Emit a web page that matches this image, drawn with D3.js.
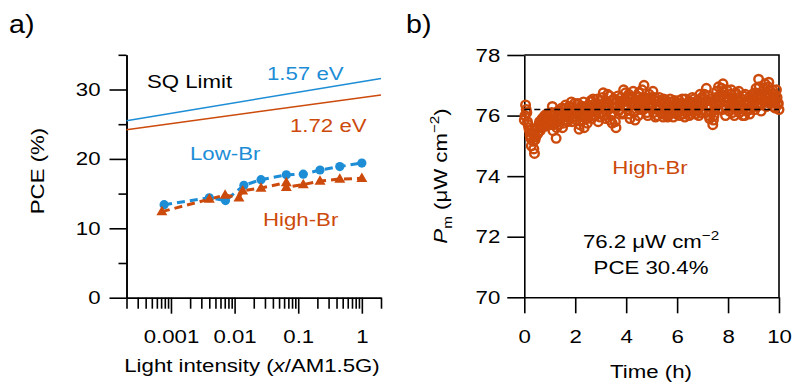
<!DOCTYPE html>
<html><head><meta charset="utf-8">
<script src="https://cdn.jsdelivr.net/npm/d3@7"></script>
<style>
body{margin:0;background:#fff;}
svg{display:block;}
text{font-family:"Liberation Sans",Arial,sans-serif;}
</style>
</head><body>
<svg id="c" width="792" height="385"></svg>
<script>
// ---------- data: panel a ----------
const intensityLow  = [0.00078, 0.004, 0.0072, 0.014, 0.026, 0.065, 0.12, 0.22, 0.45, 1.0];
const pceLow        = [13.4, 14.4, 14.0, 16.2, 17.0, 17.7, 17.8, 18.4, 18.9, 19.4];
const intensityHigh = [0.00072, 0.004, 0.0071, 0.0117, 0.0134, 0.026, 0.065, 0.065, 0.12, 0.22, 0.45, 1.0];
const pceHigh       = [12.4, 14.2, 14.8, 14.4, 15.4, 15.8, 16.6, 15.9, 16.3, 16.8, 17.1, 17.2];
const sqIntensity   = [0.0002, 2];
const sq157         = [25.5, 31.6];
const sq172         = [24.2, 29.2];
const xTicksA       = [0.001, 0.01, 0.1, 1];
const xTickLabelsA  = ["0.001", "0.01", "0.1", "1"];
const yTicksA       = [0, 10, 20, 30];
const yMinorTicksA  = [5, 15, 25, 35];

// ---------- data: panel b (two interleaved sampling sets) ----------
const timeStep = 0.05; // hours
const timeStartA = 0, timeStartB = 0.025;
const pmA = [
 75.85,76.35,76.1,75.7,75.5,75.25,75.55,75.15,74.75,75.3,75.6,75.45,75.8,75.6,75.9,75.75,76.0,75.65,75.95,75.8,
 76.05,75.9,76.3,75.7,75.85,75.25,76.0,75.7,76.15,75.9,75.6,76.2,75.95,76.1,75.8,76.3,76.0,76.45,75.95,76.2,
 76.1,75.85,76.4,75.55,76.15,76.0,76.3,75.6,76.1,75.9,76.25,76.05,76.45,75.9,76.55,76.2,76.0,76.35,75.8,76.3,
 76.5,76.1,76.75,76.3,75.9,76.45,76.2,76.65,76.0,75.75,76.4,76.25,75.6,76.5,76.15,76.35,76.6,76.05,76.85,76.3,
 76.5,76.2,76.7,75.9,76.4,76.6,76.1,75.85,76.5,76.3,76.75,76.2,76.45,76.6,77.0,76.3,76.55,76.0,76.7,76.4,
 76.25,76.8,76.5,75.95,76.35,76.2,76.6,76.1,76.4,75.95,76.3,76.5,76.15,76.0,76.45,76.2,76.35,75.95,76.5,76.25,
 76.1,76.4,76.0,76.3,76.55,76.2,75.95,76.35,76.15,76.45,76.3,76.05,76.6,76.25,76.4,76.15,76.5,76.0,76.7,76.35,
 76.2,76.55,76.45,76.9,76.3,76.0,76.55,76.1,75.7,76.0,76.4,76.8,76.2,76.6,76.5,76.9,77.05,76.6,76.0,76.85,
 76.45,76.15,76.7,76.3,76.55,76.0,76.75,76.35,76.6,76.1,76.45,76.25,76.65,76.0,76.4,76.2,76.5,76.05,76.3,76.7,
 76.6,76.2,76.9,76.4,77.2,76.6,76.15,76.8,76.5,77.05,76.3,76.75,77.1,76.6,76.4,76.85,76.55,76.25,76.85,76.35,76.2
];
const pmB = [
 76.0,76.2,75.8,75.6,75.35,75.0,75.4,74.9,75.2,75.55,75.4,75.7,75.5,75.85,75.65,75.95,75.7,76.05,75.75,75.9,
 75.7,76.1,75.5,76.0,75.8,75.6,76.15,75.85,76.0,76.25,75.75,76.05,76.35,75.85,76.15,75.95,76.3,75.8,76.1,76.4,
 75.95,76.2,76.05,75.7,76.3,75.85,76.45,76.0,76.2,75.75,76.35,76.1,76.5,76.0,76.25,76.4,76.1,76.55,76.2,75.95,
 76.35,76.6,76.0,76.45,76.15,76.7,76.3,75.85,76.5,76.1,76.55,75.8,76.3,76.65,76.2,76.45,76.1,76.5,76.35,76.75,
 76.3,76.55,76.05,76.6,76.35,76.8,76.15,76.4,76.65,76.0,76.5,76.3,76.85,76.2,76.6,76.45,76.1,76.55,76.3,76.6,
 76.4,76.1,76.6,76.3,76.0,76.5,76.2,76.45,76.05,76.55,76.2,76.4,75.95,76.3,76.55,76.1,76.45,76.2,76.35,76.05,
 76.3,76.5,76.15,76.4,76.05,76.35,76.55,76.1,76.3,76.0,76.45,76.2,76.35,76.55,76.05,76.3,76.2,76.45,76.1,76.6,
 76.4,76.7,76.1,76.5,76.65,75.9,76.3,76.45,75.85,76.2,76.6,76.35,76.95,76.4,76.7,76.2,76.8,76.45,76.3,76.6,
 76.6,76.3,76.85,76.1,76.4,76.7,76.2,76.5,76.8,76.25,76.55,76.0,76.45,76.7,76.15,76.4,76.6,76.2,76.5,76.45,
 76.4,76.75,76.3,76.65,76.95,76.35,76.7,76.5,76.9,76.45,76.6,76.95,76.4,76.8,76.5,76.3,76.7,76.5,76.6,76.4
];
const pmAverage = 76.2;
const xTicksB = [0, 2, 4, 6, 8, 10];
const yTicksB = [70, 72, 74, 76, 78];

// ---------- style ----------
const BLUE = "#1d8dd6", ORANGE = "#cc4a0b";
const FS = 19, SX = 1.17, AXW = 1.6;

const svg = d3.select("#c");

function stretch(sel, sx) {
  sel.each(function () {
    const t = d3.select(this);
    const x = +t.attr("x") || 0, y = +t.attr("y") || 0;
    const prev = t.attr("transform") || "";
    t.attr("x", null).attr("y", null)
     .attr("transform", `translate(${x},${y}) ${prev} scale(${sx},1)`);
  });
}
function styleAxis(g) {
  g.selectAll("path,line").attr("stroke", "#000").attr("stroke-width", AXW);
  g.selectAll("text").attr("font-size", FS).attr("font-family", '"Liberation Sans",Arial,sans-serif').attr("fill", "#000");
  stretch(g.selectAll("text"), SX);
}

// ================= panel a =================
const xA = d3.scaleLog().domain([2e-4, 2]).range([126.5, 381]);
const yA = d3.scaleLinear().domain([0, 35]).range([297.7, 54.8]);
const gA = svg.append("g");

// minor x ticks (2..9 of every decade inside the domain)
const minorXA = [];
for (let e = -4; e <= 0; e++) for (let m = 2; m <= 9; m++) {
  const v = m * Math.pow(10, e);
  if (v >= 2e-4 && v <= 2) minorXA.push(v);
}
const axMinX = gA.append("g").attr("transform", `translate(0,${yA(0)})`)
  .call(d3.axisBottom(xA).tickValues(minorXA).tickSize(11).tickSizeOuter(0).tickFormat(""));
styleAxis(axMinX);
const axX = gA.append("g").attr("transform", `translate(0,${yA(0)})`)
  .call(d3.axisBottom(xA).tickValues(xTicksA).tickSize(16).tickSizeOuter(0).tickPadding(16)
    .tickFormat((d, i) => xTickLabelsA[i]));
styleAxis(axX);

const axMinY = gA.append("g").attr("transform", `translate(${xA.range()[0]},0)`)
  .call(d3.axisLeft(yA).tickValues(yMinorTicksA).tickSize(8).tickSizeOuter(0).tickFormat(""));
styleAxis(axMinY);
const axY = gA.append("g").attr("transform", `translate(${xA.range()[0]},0)`)
  .call(d3.axisLeft(yA).tickValues(yTicksA).tickSize(17).tickSizeOuter(0).tickPadding(9));
styleAxis(axY);

// SQ limit lines
const lineA = d3.line().x(d => xA(d[0])).y(d => yA(d[1]));
gA.append("path").datum(sqIntensity.map((x, i) => [x, sq157[i]]))
  .attr("d", lineA).attr("fill", "none").attr("stroke", BLUE).attr("stroke-width", 1.5);
gA.append("path").datum(sqIntensity.map((x, i) => [x, sq172[i]]))
  .attr("d", lineA).attr("fill", "none").attr("stroke", ORANGE).attr("stroke-width", 1.5);

// dashed connecting lines
const lowPts = intensityLow.map((x, i) => [x, pceLow[i]]);
const highPts = intensityHigh.map((x, i) => [x, pceHigh[i]]);
gA.append("path").datum(lowPts).attr("d", lineA).attr("fill", "none")
  .attr("stroke", BLUE).attr("stroke-width", 3).attr("stroke-dasharray", "8,5");
gA.append("path").datum(highPts).attr("d", lineA).attr("fill", "none")
  .attr("stroke", ORANGE).attr("stroke-width", 3).attr("stroke-dasharray", "8,5");

// markers
gA.selectAll("circle.low").data(lowPts).join("circle").attr("class", "low")
  .attr("cx", d => xA(d[0])).attr("cy", d => yA(d[1])).attr("r", 4.6).attr("fill", BLUE);
const tri = d3.symbol().type(d3.symbolTriangle).size(52);
gA.selectAll("path.high").data(highPts).join("path").attr("class", "high")
  .attr("d", tri).attr("transform", d => `translate(${xA(d[0])},${yA(d[1]) + 0.5})`).attr("fill", ORANGE);

// texts panel a
function label(g, x, y, str, color, anchor) {
  const t = g.append("text").attr("x", x).attr("y", y).attr("font-size", FS)
    .attr("fill", color || "#000").attr("text-anchor", anchor || "start").text(str);
  stretch(t, SX);
  return t;
}
label(gA, 147, 87.5, "SQ Limit", "#000");
label(gA, 267, 80, "1.57 eV", BLUE);
label(gA, 290, 131.5, "1.72 eV", ORANGE);
label(gA, 190, 160, "Low-Br", BLUE);
label(gA, 263, 226, "High-Br", ORANGE);

// x title panel a
const xtA = gA.append("text").attr("x", 252).attr("y", 372).attr("font-size", FS)
  .attr("fill", "#000").attr("text-anchor", "middle");
xtA.append("tspan").text("Light intensity (");
xtA.append("tspan").attr("font-style", "italic").text("x");
xtA.append("tspan").text("/AM1.5G)");
stretch(xtA, SX);

// y title panel a
gA.append("text").attr("font-size", FS).attr("fill", "#000").attr("text-anchor", "middle")
  .attr("transform", `translate(44,171) rotate(-90) scale(${SX},1)`).text("PCE (%)");

// panel label
const la = svg.append("text").attr("x", 9).attr("y", 33).attr("font-size", 26).attr("fill", "#000")
  .attr("font-family", "Lato, 'Open Sans', sans-serif").text("a)");
stretch(la, 1.1);

// ================= panel b =================
const xB = d3.scaleLinear().domain([0, 10]).range([524.3, 779]);
const yB = d3.scaleLinear().domain([70, 78]).range([297.3, 55]);
const gB = svg.append("g");

const axXB = gB.append("g").attr("transform", `translate(0,${yB(70)})`)
  .call(d3.axisBottom(xB).tickValues(xTicksB).tickSize(16).tickSizeOuter(0).tickPadding(16));
styleAxis(axXB);
const axYB = gB.append("g").attr("transform", `translate(${xB(0)},0)`)
  .call(d3.axisLeft(yB).tickValues(yTicksB).tickSize(17).tickSizeOuter(0).tickPadding(7));
styleAxis(axYB);
// frame top & right
gB.append("path")
  .attr("d", `M${xB(0)},${yB(78)}H${xB(10)}V${yB(70)}`)
  .attr("fill", "none").attr("stroke", "#000").attr("stroke-width", AXW);

// scatter
const pmPts = pmA.map((v, i) => [timeStartA + i * timeStep, v])
  .concat(pmB.map((v, i) => [timeStartB + i * timeStep, v]));
gB.selectAll("circle.pm").data(pmPts).join("circle").attr("class", "pm")
  .attr("cx", d => xB(d[0])).attr("cy", d => yB(d[1])).attr("r", 4.3)
  .attr("fill", "none").attr("stroke", ORANGE).attr("stroke-width", 2.4);

// average dashed line
gB.append("line").attr("x1", xB(0)).attr("x2", xB(10))
  .attr("y1", yB(pmAverage)).attr("y2", yB(pmAverage))
  .attr("stroke", "#000").attr("stroke-width", 1.5).attr("stroke-dasharray", "6,4");

// texts panel b
label(gB, 650, 174, "High-Br", ORANGE, "middle");
const ann = gB.append("text").attr("x", 651).attr("y", 248).attr("font-size", FS)
  .attr("fill", "#000").attr("text-anchor", "middle");
ann.append("tspan").text("76.2 μW cm");
ann.append("tspan").attr("font-size", 13).attr("dy", -8).text("−2");
stretch(ann, SX);
label(gB, 651, 273.5, "PCE 30.4%", "#000", "middle");

label(gB, 651, 378, "Time (h)", "#000", "middle");

// y title panel b
const ytB = gB.append("text").attr("font-size", FS).attr("fill", "#000").attr("text-anchor", "middle")
  .attr("transform", `translate(447,176) rotate(-90) scale(${SX},1)`);
ytB.append("tspan").attr("font-style", "italic").text("P");
ytB.append("tspan").attr("font-size", 13).attr("dy", 5).text("m");
ytB.append("tspan").attr("dy", -5).text(" (μW cm");
ytB.append("tspan").attr("font-size", 13).attr("dy", -8).text("−2");
ytB.append("tspan").attr("dy", 8).text(")");

const lb = svg.append("text").attr("x", 406).attr("y", 33).attr("font-size", 26).attr("fill", "#000")
  .attr("font-family", "Lato, 'Open Sans', sans-serif").text("b)");
stretch(lb, 1.1);
</script>
</body></html>
